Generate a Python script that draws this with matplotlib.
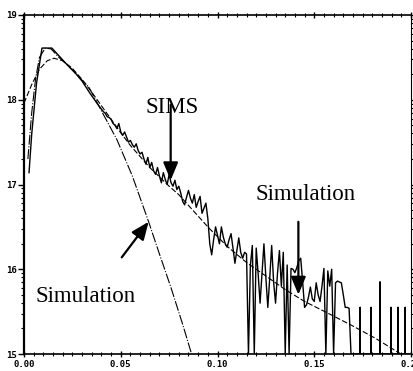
import numpy as np
import matplotlib
matplotlib.use("Agg")
import matplotlib.pyplot as plt

# SIMS profile: head points, then a 0.001 grid, then zero-count spikes in the tail
sims_head_x = [0.0026, 0.004, 0.0065, 0.0093, 0.0144, 0.018, 0.022, 0.026, 0.030, 0.034, 0.038]
sims_head_y = [17.14, 17.60, 18.20, 18.61, 18.61, 18.52, 18.42, 18.33, 18.22, 18.08, 17.95]

sims_grid_start = 0.041
sims_grid_y = [
    17.86, 17.84, 17.80, 17.79, 17.77, 17.72, 17.70, 17.66, 17.72, 17.62,   # 0.041-0.050
    17.58, 17.62, 17.56, 17.50, 17.52, 17.47, 17.44, 17.48, 17.40, 17.36,   # 0.051-0.060
    17.38, 17.30, 17.24, 17.32, 17.20, 17.26, 17.16, 17.12, 17.20, 17.10,   # 0.061-0.070
    17.02, 17.14, 17.06, 17.00, 17.12, 17.02, 16.98, 17.05, 16.94, 16.98,   # 0.071-0.080
    16.90, 16.80, 16.76, 16.85, 16.93, 16.84, 16.78, 16.88, 16.73, 16.80,   # 0.081-0.090
    16.86, 16.66, 16.72, 16.78, 16.60, 16.30, 16.17, 16.35, 16.50, 16.40,   # 0.091-0.100
    16.30, 16.50, 16.38, 16.30, 16.26, 16.35, 16.42, 16.25, 16.07, 16.22,   # 0.101-0.110
    16.37, 16.20, 16.13, 16.20, 16.18, 15.00, 16.05, 16.28, 15.00, 16.25,   # 0.111-0.120
    15.95, 15.60, 15.95, 16.30, 15.90, 15.55, 15.90, 16.28, 15.85, 15.60,   # 0.121-0.130
    15.95, 16.22, 15.80, 16.20, 15.00, 16.05, 15.00, 16.01, 16.00, 15.96,   # 0.131-0.140
    16.02, 16.10, 16.13, 15.85, 15.55, 15.58, 15.67, 15.79, 15.65, 15.62,   # 0.141-0.150
    15.84, 15.70, 15.62, 15.80, 16.01, 15.00, 15.98, 15.80, 16.00, 15.00,   # 0.151-0.160
    15.84, 15.86, 15.85, 15.84, 15.70, 15.55, 15.55, 15.54, 15.00,          # 0.161-0.169
]
spike_x = [0.1737, 0.1794, 0.184, 0.1897, 0.1933, 0.197]
spike_y = [15.55, 15.55, 15.85, 15.55, 15.55, 15.55]
sims_end_x = 0.199

# simulations
narrow_x = [0.002, 0.004, 0.006, 0.008, 0.011, 0.014, 0.018, 0.022, 0.027, 0.0335,
            0.040, 0.048, 0.056, 0.0644, 0.070, 0.076, 0.082, 0.0866]
narrow_y = [17.30, 17.85, 18.25, 18.50, 18.61, 18.60, 18.50, 18.42, 18.30, 18.15,
            17.87, 17.53, 17.10, 16.56, 16.18, 15.78, 15.35, 15.00]

broad_x = [0.000, 0.004, 0.008, 0.012, 0.0155, 0.020, 0.025, 0.030, 0.035, 0.040,
           0.045, 0.050, 0.055, 0.060, 0.065, 0.070, 0.075, 0.080, 0.0875, 0.0954,
           0.105, 0.115, 0.125, 0.135, 0.145, 0.1572, 0.170, 0.182, 0.1933, 0.199]
broad_y = [17.96, 18.18, 18.36, 18.46, 18.49, 18.46, 18.37, 18.24, 18.09, 17.93,
           17.77, 17.61, 17.46, 17.33, 17.20, 17.09, 16.98, 16.88, 16.69, 16.49,
           16.27, 16.08, 15.92, 15.76, 15.62, 15.48, 15.33, 15.18, 15.02, 14.95]

x_ticks = [0.00, 0.05, 0.10, 0.15, 0.20]
x_ticklabels = ["0.00", "0.05", "0.10", "0.15", "0.20"]
y_ticks = [15, 16, 17, 18, 19]
y_ticklabels = ["15", "16", "17", "18", "19"]

# build the full SIMS trace
grid_x = [round(sims_grid_start + 0.001 * i, 4) for i in range(len(sims_grid_y))]
sims_x = sims_head_x + grid_x
sims_y = sims_head_y + sims_grid_y
for sx, sy in zip(spike_x, spike_y):
    sims_x += [sx, sx, sx]
    sims_y += [15.0, sy, 15.0]
sims_x.append(sims_end_x)
sims_y.append(15.0)

fig = plt.figure(figsize=(4.14, 3.71), dpi=100)
ax = fig.add_axes([24 / 414, 17 / 371, 387 / 414, 339 / 371])

ax.plot(sims_x, sims_y, color="black", lw=1.0)
ax.plot(narrow_x, narrow_y, color="black", lw=0.8, ls=(0, (9, 1.5, 1, 1.5)))
ax.plot(broad_x, broad_y, color="black", lw=0.8, ls=(0, (5, 2)))

ax.set_xlim(0, 0.199)
ax.set_ylim(15, 19)

# minor ticks: every 0.005 on x, log decades on y
ax.set_xticks(x_ticks)
ax.set_xticklabels(x_ticklabels)
ax.set_xticks(np.arange(0, 0.2, 0.005), minor=True)
ax.set_yticks(y_ticks)
ax.set_yticklabels(y_ticklabels)
ax.set_yticks([d + np.log10(k) for d in range(15, 19) for k in range(2, 10)], minor=True)

ax.tick_params(axis="x", which="major", direction="inout", length=5, width=1, pad=2, top=True)
ax.tick_params(axis="x", which="minor", direction="inout", length=3, width=0.8, top=True)
ax.tick_params(axis="y", which="major", direction="out", length=4, width=1, pad=1, right=True)
ax.tick_params(axis="y", which="minor", direction="out", length=2.5, width=0.8, right=True)
for lab in ax.get_xticklabels() + ax.get_yticklabels():
    lab.set_fontfamily("DejaVu Sans Mono")
    lab.set_fontweight("bold")
    lab.set_fontsize(6.5)

ax.spines["left"].set_linewidth(1.6)
ax.spines["bottom"].set_linewidth(1.2)
ax.spines["top"].set_linewidth(1.2)
ax.spines["right"].set_linewidth(0.8)

arrow = dict(arrowstyle="-|>,head_length=0.6,head_width=0.25", color="black",
             lw=1.6, mutation_scale=18, shrinkA=0, shrinkB=0)
ax.annotate("", xy=(0.0758, 17.05), xytext=(0.0758, 17.94), arrowprops=arrow)
ax.annotate("", xy=(0.1418, 15.70), xytext=(0.1418, 16.56), arrowprops=arrow)
ax.annotate("", xy=(0.0644, 16.56), xytext=(0.0505, 16.14), arrowprops=arrow)

serif = "Liberation Serif"
ax.text(0.0629, 17.84, "SIMS", fontsize=16.5, family=serif, ha="left", va="baseline")
ax.text(0.1196, 16.82, "Simulation", fontsize=16.5, family=serif, ha="left", va="baseline")
ax.text(0.0062, 15.61, "Simulation", fontsize=16.5, family=serif, ha="left", va="baseline")

fig.savefig("out.png", dpi=100)
